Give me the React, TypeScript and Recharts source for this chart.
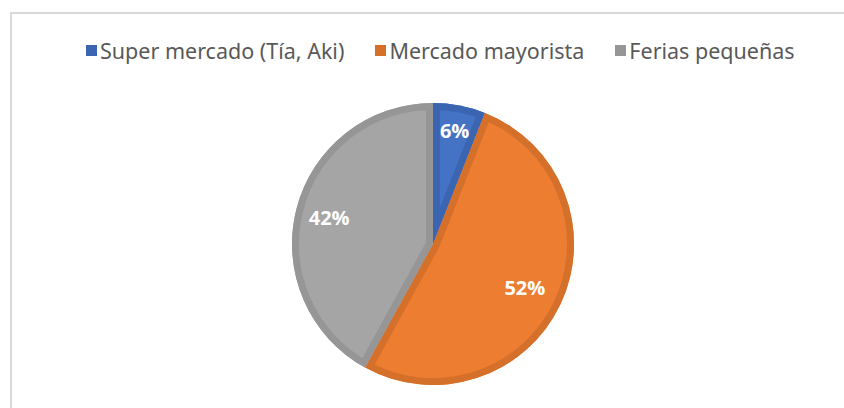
import { PieChart, Pie, Cell, Sector, Legend } from "recharts";

const categories = ["Super mercado (Tía, Aki)", "Mercado mayorista", "Ferias pequeñas"];
const shares = [6, 52, 42];

const fillColors = ["#4472C4", "#ED7D31", "#A5A5A5"];
const edgeColors = ["#3B65B1", "#D5702B", "#969696"];
const labelRadius = [0.82, 0.72, 0.76];

const data = categories.map((name, i) => ({ name, value: shares[i] }));

const RAD = Math.PI / 180;

// Excel-like slice border: a darker band kept inside the slice, plus the % label
function renderLabel(props: any) {
  const { cx, cy, midAngle, outerRadius, innerRadius, startAngle, endAngle, index, value } = props;
  const id = `slice-clip-${index}`;
  const geo = { cx, cy, innerRadius: innerRadius || 0, outerRadius, startAngle, endAngle };
  const r = outerRadius * labelRadius[index];
  const x = cx + r * Math.cos(-midAngle * RAD);
  const y = cy + r * Math.sin(-midAngle * RAD);
  return (
    <g>
      <defs>
        <clipPath id={id}>
          <Sector {...geo} />
        </clipPath>
      </defs>
      <Sector
        {...geo}
        fill="none"
        stroke={edgeColors[index]}
        strokeWidth={14}
        strokeLinejoin="miter"
        clipPath={`url(#${id})`}
      />
      <text
        x={x}
        y={y}
        fill="#ffffff"
        stroke="none"
        fontFamily="'Open Sans', sans-serif"
        fontWeight={700}
        fontSize={20}
        textAnchor="middle"
        dominantBaseline="central"
      >
        {`${value}%`}
      </text>
    </g>
  );
}

function renderLegend() {
  return (
    <div
      style={{
        display: "flex",
        justifyContent: "flex-start",
        alignItems: "center",
        height: 24,
        paddingLeft: 86,
        fontFamily: "'Noto Sans', sans-serif",
        fontSize: 21.5,
        color: "#595959",
      }}
    >
      {categories.map((name, i) => (
        <div key={name} style={{ display: "flex", alignItems: "center", marginRight: 31 }}>
          <span
            style={{
              display: "inline-block",
              width: 11,
              height: 11,
              background: edgeColors[i],
              marginRight: 3,
            }}
          />
          <span style={{ whiteSpace: "nowrap" }}>{name}</span>
        </div>
      ))}
    </div>
  );
}

export default function App() {
  return (
    <div style={{ position: "absolute", left: 0, top: 0, width: 844, height: 408, overflow: "hidden", background: "#fff" }}>
      <div
        style={{
          position: "absolute",
          left: 10,
          top: 12,
          width: 880,
          height: 440,
          border: "2px solid #d9d9d9",
          boxSizing: "border-box",
        }}
      />
      <div style={{ position: "absolute", left: 0, top: 0 }}>
        <PieChart width={844} height={408} margin={{ top: 0, right: 0, bottom: 0, left: 0 }}>
          <Legend
            verticalAlign="top"
            align="left"
            content={renderLegend}
            wrapperStyle={{ top: 38, left: 0, width: 844 }}
          />
          <Pie
            data={data}
            dataKey="value"
            nameKey="name"
            cx={433}
            cy={220}
            outerRadius={141}
            startAngle={90}
            endAngle={-270}
            stroke="none"
            label={renderLabel}
            labelLine={false}
            isAnimationActive={false}
          >
            {data.map((d, i) => (
              <Cell key={d.name} fill={fillColors[i]} />
            ))}
          </Pie>
        </PieChart>
      </div>
    </div>
  );
}
